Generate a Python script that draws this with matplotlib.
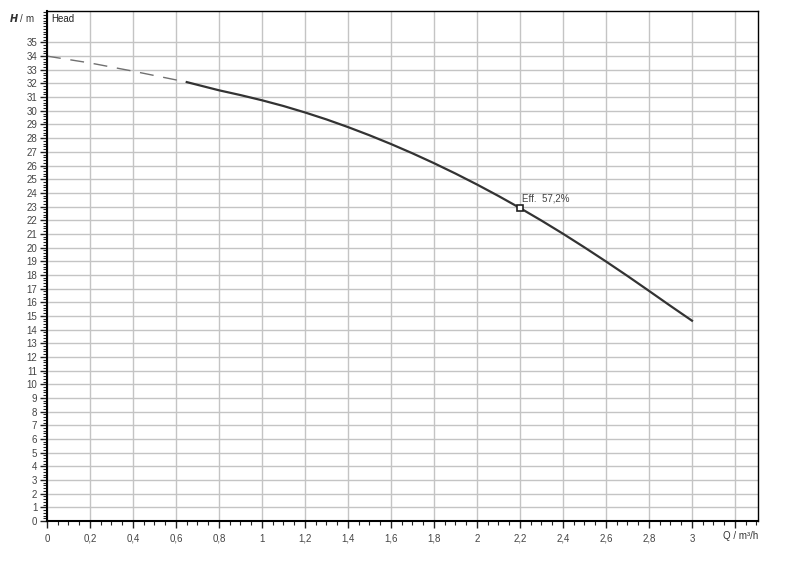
import matplotlib.pyplot as plt
import numpy as np

plt.rcParams['font.family'] = ['Liberation Sans', 'DejaVu Sans']

q_dashed = [0.0, 0.2, 0.4, 0.65]
h_dashed = [34.0, 33.5, 32.9, 32.1]

q_solid = [0.65, 0.8, 0.9, 1.0, 1.1, 1.2, 1.3, 1.4, 1.5, 1.6, 1.7, 1.8, 1.9, 2.0,
           2.1, 2.2, 2.3, 2.4, 2.5, 2.6, 2.7, 2.8, 2.9, 3.0]
h_solid = [32.1, 31.5, 31.15, 30.77, 30.35, 29.88, 29.37, 28.81, 28.21, 27.57, 26.89,
           26.17, 25.41, 24.61, 23.77, 22.89, 21.97, 21.01, 20.01, 18.98, 17.92, 16.83,
           15.73, 14.65]

duty_q = 2.2
duty_h = 22.9
duty_label = "Eff.  57,2%"

x_ticks = [0, 0.2, 0.4, 0.6, 0.8, 1, 1.2, 1.4, 1.6, 1.8, 2, 2.2, 2.4, 2.6, 2.8, 3, 3.2]
x_labels = ["0", "0,2", "0,4", "0,6", "0,8", "1", "1,2", "1,4", "1,6", "1,8",
            "2", "2,2", "2,4", "2,6", "2,8", "3", ""]
y_ticks = list(range(0, 36))

fig = plt.figure(figsize=(8, 5.61), dpi=100)
ax = fig.add_axes([0.05875, 0.0713, 0.88875, 0.9091])

ax.set_xlim(0, 3.307)
ax.set_ylim(0, 37.3)

ax.set_xticks(x_ticks)
ax.set_xticklabels(x_labels)
ax.set_xticks(np.arange(0, 3.31, 0.05), minor=True)
ax.set_yticks(y_ticks)
ax.set_yticklabels([str(v) for v in y_ticks])
ax.set_yticks(np.arange(0, 37.3, 0.2), minor=True)

ax.tick_params(axis="both", which="major", labelsize=7, colors="#222222",
               length=5, width=1, direction="out", pad=2)
ax.tick_params(axis="both", which="minor", length=3, width=0.8, color="#222222")
ax.tick_params(axis="x", which="major", pad=4)
for lab in ax.get_xticklabels() + ax.get_yticklabels():
    lab.set_color("#444444")

ax.grid(True, which="major", color="#c4c4c4", linewidth=1)
ax.set_axisbelow(True)

for side in ["left", "bottom"]:
    ax.spines[side].set_linewidth(1.5)
for side in ["top", "right"]:
    ax.spines[side].set_linewidth(1)

ax.plot(q_dashed, h_dashed, color="#707070", linewidth=1.0, dashes=(10, 7))
ax.plot(q_solid, h_solid, color="#333333", linewidth=1.6)
ax.plot([duty_q], [duty_h], marker="s", markersize=5, markerfacecolor="white",
        markeredgecolor="#222222", markeredgewidth=1.2, linestyle="none")
ax.text(duty_q + 0.01, duty_h + 0.35, duty_label, fontsize=7, color="#444444",
        va="bottom", ha="left")

ax.text(0.02, 37.1, "Head", fontsize=7, color="#222222", va="top", ha="left")
fig.text(0.044, 0.968, r"$\boldsymbol{H}$ / m", fontsize=7, color="#333333",
         ha="right", va="center")
fig.text(0.948, 0.044, "Q / m³/h", fontsize=7, color="#333333",
         ha="right", va="center")

fig.savefig("out.png", dpi=100)
